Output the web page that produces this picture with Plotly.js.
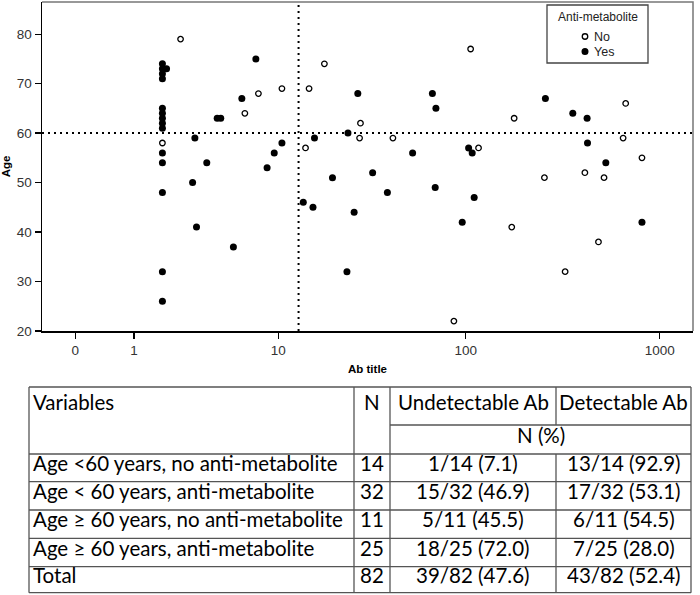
<!DOCTYPE html>
<html><head><meta charset="utf-8">
<script src="https://cdn.plot.ly/plotly-3.0.1.min.js"></script>
<style>html,body{margin:0;padding:0;background:#fff;} #chart{width:700px;height:595px;}</style>
</head><body><div id="chart"></div>
<script>
// ---- Scatter data (Ab titre, Age) ----
const noAb  = [2.47, 7.71, 10.5, 14.85, 6.42, 14.2, 1.8, 18.0, 28.1, 27.8, 41.7, 106, 116.5, 86.8, 178, 668, 648, 810, 255, 412, 517, 173, 484, 326];
const noAge = [79, 68, 69, 69, 64, 57, 58, 74, 62, 59, 59, 77, 57, 22, 63, 66, 59, 55, 51, 52, 51, 41, 38, 32];
const yesAb  = [1.8, 1.8, 1.94, 1.8, 1.8, 1.8, 1.8, 1.8, 1.8, 1.8, 1.8, 1.8, 1.8, 1.8, 1.8,
                7.45, 6.16, 4.35, 4.58, 3.11, 15.9, 10.5, 9.5, 8.65, 3.73, 3.0, 3.19, 5.48, 13.8, 15.6,
                27.2, 24.1, 52.9, 67.1, 70, 103.5, 108, 19.9, 32.6, 26, 39, 69.4, 110.6, 95.9, 23.8,
                258, 357, 423, 425, 528, 810];
const yesAge = [74, 73, 73, 72, 71, 65, 64, 63, 62, 61, 56, 54, 48, 32, 26,
                75, 67, 63, 63, 59, 59, 58, 56, 53, 54, 50, 41, 37, 46, 45,
                68, 60, 56, 68, 65, 57, 56, 51, 52, 44, 48, 49, 47, 42, 32,
                67, 64, 63, 58, 54, 42];
const seriesNames = ['No', 'Yes'];
const legendTitle = 'Anti-metabolite';
const xTickLabels = [0, 1, 10, 100, 1000];
const yTickLabels = [20, 30, 40, 50, 60, 70, 80];
const cutoffAb = 13;
const cutoffAge = 60;
const xTitle = 'Ab title';
const yTitle = 'Age';

// ---- Table data ----
const tableHeader = ['Variables', 'N', 'Undetectable Ab', 'Detectable Ab'];
const tableSubHeader = 'N (%)';
const rowLabels = ['Age <60 years, no anti-metabolite', 'Age < 60 years, anti-metabolite',
                   'Age \u2265 60 years, no anti-metabolite', 'Age \u2265 60 years, anti-metabolite', 'Total'];
const rowN = [14, 32, 11, 25, 82];
const rowUndetect = ['1/14 (7.1)', '15/32 (46.9)', '5/11 (45.5)', '18/25 (72.0)', '39/82 (47.6)'];
const rowDetect = ['13/14 (92.9)', '17/32 (53.1)', '6/11 (54.5)', '7/25 (28.0)', '43/82 (52.4)'];

// ---- geometry ----
const W = 700, H = 595;
const M = {l: 42, r: 7, t: 2, b: 264};
const pw = W - M.l - M.r, ph = H - M.t - M.b;
const px = x => (x - M.l) / pw;
const py = y => (H - M.b - y) / ph;
const tr = v => Math.log10(v + 1);

const chartFont = 'Arial, "Liberation Sans", sans-serif';
const tableFont = 'Lato, "Liberation Sans", sans-serif';

const markerNo  = {symbol: 'circle', size: 5.5, color: '#ffffff', line: {color: '#000', width: 1.3}};
const markerYes = {symbol: 'circle', size: 7, color: '#000', line: {width: 0}};

const traces = [
  {type: 'scatter', mode: 'markers', name: seriesNames[0],
   x: noAb.map(tr), y: noAge, marker: markerNo},
  {type: 'scatter', mode: 'markers', name: seriesNames[1],
   x: yesAb.map(tr), y: yesAge, marker: markerYes}
];

const shapes = [
  {type: 'path', xref: 'paper', yref: 'paper', path: 'M 0,1 L 1,1 L 1,0',
   line: {color: '#777', width: 1.5}},
  {type: 'line', xref: 'paper', yref: 'y', x0: 0, x1: 1, y0: cutoffAge, y1: cutoffAge,
   line: {color: '#000', width: 2, dash: '2px,4px'}},
  {type: 'line', xref: 'x', yref: 'paper', x0: tr(cutoffAb), x1: tr(cutoffAb), y0: 0, y1: 1,
   line: {color: '#000', width: 2, dash: '2px,4px'}}
];
const annotations = [];

// ---- legend box (drawn in pixel geometry) ----
const lg = {x0: 547, x1: 648, y0: 5, y1: 63, keyX: 585, textX: 592, titleY: 17, rowY: [37, 52]};
shapes.push({type: 'rect', xref: 'paper', yref: 'paper', x0: px(lg.x0), x1: px(lg.x1), y0: py(lg.y1), y1: py(lg.y0),
  fillcolor: '#fff', line: {color: '#444', width: 1.3}, layer: 'above'});
annotations.push({text: legendTitle, xref: 'paper', yref: 'paper', x: px((lg.x0 + lg.x1) / 2), y: py(lg.titleY),
  xanchor: 'center', yanchor: 'middle', showarrow: false, font: {family: chartFont, size: 12, color: '#222'}});
[markerNo, markerYes].forEach((mk, i) => {
  const r = mk.size / 2, cy = lg.rowY[i] - 0.5;
  shapes.push({type: 'circle', xref: 'paper', yref: 'paper',
    x0: px(lg.keyX - r), x1: px(lg.keyX + r), y0: py(cy + r), y1: py(cy - r),
    fillcolor: mk.color, line: {color: '#000', width: mk.line.width || 0.01}, layer: 'above'});
  annotations.push({text: seriesNames[i], xref: 'paper', yref: 'paper', x: px(lg.textX), y: py(lg.rowY[i]),
    xanchor: 'left', yanchor: 'middle', showarrow: false, font: {family: chartFont, size: 12.5, color: '#222'}});
});

// ---- table lines (pixel geometry) ----
const tL = 29, tR = 691, cN0 = 354, cN1 = 390, cD = 556;
const rowLines = [387, 425, 454, 481.7, 510, 538.3, 566.7, 592.7];
const lineStyle = {color: '#555', width: 1.3};
function hline(y, x0, x1) {
  shapes.push({type: 'line', xref: 'paper', yref: 'paper', x0: px(x0), x1: px(x1), y0: py(y), y1: py(y), line: lineStyle});
}
function vline(x, y0, y1) {
  shapes.push({type: 'line', xref: 'paper', yref: 'paper', x0: px(x), x1: px(x), y0: py(y0), y1: py(y1), line: lineStyle});
}
rowLines.forEach((y, i) => { if (i === 1) hline(y, cN1, tR); else hline(y, tL, tR); });
const tTop = rowLines[0], tBot = rowLines[rowLines.length - 1];
vline(tL, tTop, tBot); vline(cN0, tTop, tBot); vline(cN1, tTop, tBot); vline(tR, tTop, tBot);
vline(cD, tTop, rowLines[1]); vline(cD, rowLines[2], tBot);

function txt(s, x, y, anchor) {
  annotations.push({text: s, xref: 'paper', yref: 'paper', x: px(x), y: py(y),
    xanchor: anchor || 'center', yanchor: 'middle', showarrow: false,
    font: {family: tableFont, size: 20.5, color: '#000'}});
}
const hc = (rowLines[0] + rowLines[1]) / 2 - 4;
txt(tableHeader[0], tL + 2, hc, 'left');
txt(tableHeader[1], (cN0 + cN1) / 2, hc);
txt(tableHeader[2], (cN1 + cD) / 2, hc);
txt(tableHeader[3], (cD + tR) / 2, hc);
txt(tableSubHeader, (cN1 + tR) / 2, (rowLines[1] + rowLines[2]) / 2 - 5);
rowLabels.forEach((lab, i) => {
  const yc = (rowLines[i + 2] + rowLines[i + 3]) / 2 - 5;
  txt(lab, tL + 2, yc, 'left');
  txt(String(rowN[i]), (cN0 + cN1) / 2, yc);
  txt(rowUndetect[i], (cN1 + cD) / 2, yc);
  txt(rowDetect[i], (cD + tR) / 2, yc);
});

const layout = {
  width: W, height: H,
  margin: M,
  paper_bgcolor: '#fff', plot_bgcolor: '#fff',
  font: {family: chartFont, color: '#222'},
  showlegend: false,
  xaxis: {
    range: [-0.171, 3.171], showgrid: false, zeroline: false,
    showline: true, linecolor: '#000', linewidth: 1.5,
    ticks: 'outside', ticklen: 6, tickwidth: 1.3, tickcolor: '#000',
    tickvals: xTickLabels.map(tr), ticktext: xTickLabels.map(String),
    tickfont: {family: chartFont, size: 13.5, color: '#333'},
    title: {text: '<b>' + xTitle + '</b>', standoff: 8, font: {family: chartFont, size: 11.5, color: '#000'}},
    automargin: false
  },
  yaxis: {
    range: [20, 86.5], showgrid: false, zeroline: false,
    showline: true, linecolor: '#000', linewidth: 1.5,
    ticks: 'outside', ticklen: 6, tickwidth: 1.3, tickcolor: '#000',
    tickvals: yTickLabels, ticktext: yTickLabels.map(String),
    tickfont: {family: chartFont, size: 13.5, color: '#333'},
    title: {text: '<b>' + yTitle + '</b>', standoff: 4, font: {family: chartFont, size: 11.5, color: '#000'}},
    automargin: false
  },
  shapes: shapes,
  annotations: annotations
};

Plotly.newPlot('chart', traces, layout, {staticPlot: true, displayModeBar: false});
</script>
</body></html>
